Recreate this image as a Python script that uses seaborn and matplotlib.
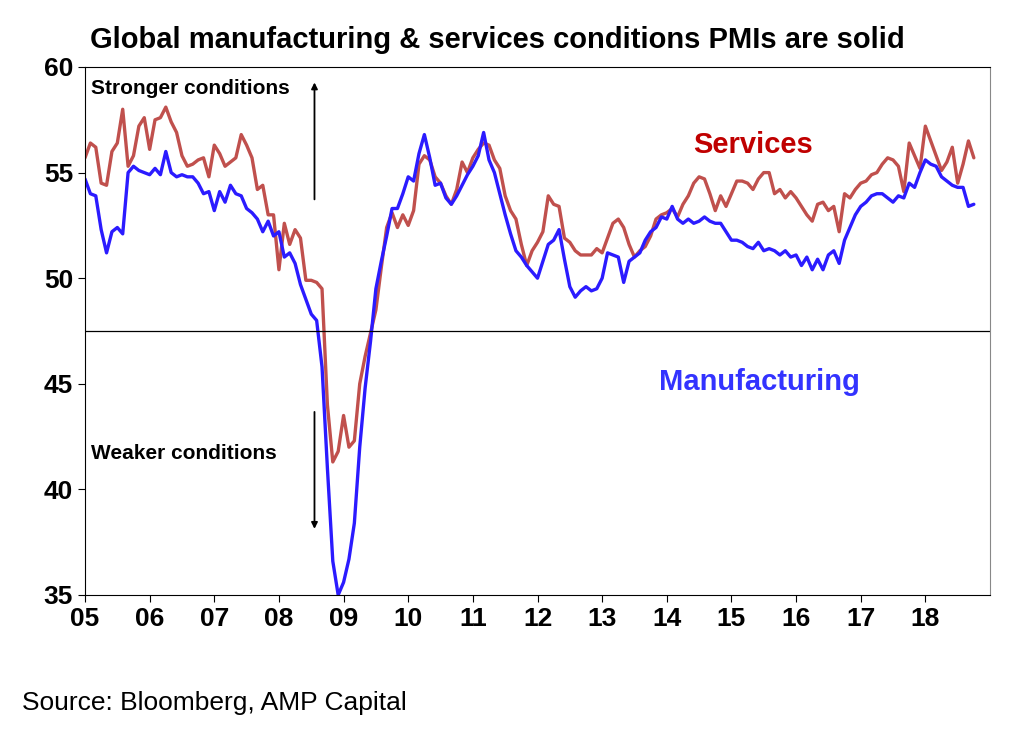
import numpy as np
import pandas as pd
import matplotlib
matplotlib.use("Agg")
import matplotlib.pyplot as plt
import seaborn as sns

# Monthly global PMIs, Jan 2005 - Oct 2018
manufacturing = [
    54.7, 54.0, 53.9, 52.3, 51.2, 52.2, 52.4, 52.1, 55.0, 55.3, 55.1, 55.0,
    54.9, 55.2, 54.9, 56.0, 55.0, 54.8, 54.9, 54.8, 54.8, 54.5, 54.0, 54.1,
    53.2, 54.1, 53.6, 54.4, 54.0, 53.9, 53.3, 53.1, 52.8, 52.2, 52.7, 52.0,
    52.2, 51.0, 51.2, 50.7, 49.7, 49.0, 48.3, 48.0, 45.8, 41.0, 36.6, 35.0,
    35.6, 36.7, 38.4, 42.0, 44.8, 47.0, 49.5, 50.8, 52.0, 53.3, 53.3, 54.0,
    54.8, 54.6, 55.9, 56.8, 55.7, 54.4, 54.5, 53.8, 53.5, 53.9, 54.4, 54.9,
    55.3, 55.8, 56.9, 55.6, 55.0, 54.0, 53.0, 52.1, 51.3, 51.0, 50.6, 50.3,
    50.0, 50.8, 51.6, 51.8, 52.3, 50.9, 49.6, 49.1, 49.4, 49.6, 49.4, 49.5,
    50.0, 51.2, 51.1, 51.0, 49.8, 50.8, 51.0, 51.2, 51.8, 52.2, 52.4, 52.9,
    52.8, 53.4, 52.8, 52.6, 52.8, 52.6, 52.7, 52.9, 52.7, 52.6, 52.6, 52.2,
    51.8, 51.8, 51.7, 51.5, 51.4, 51.7, 51.3, 51.4, 51.3, 51.1, 51.3, 51.0,
    51.1, 50.6, 51.0, 50.4, 50.9, 50.4, 51.1, 51.3, 50.7, 51.8, 52.4, 53.0,
    53.4, 53.6, 53.9, 54.0, 54.0, 53.8, 53.6, 53.9, 53.8, 54.5, 54.3, 55.0,
    55.6, 55.4, 55.3, 54.8, 54.6, 54.4, 54.3, 54.3, 53.4, 53.5,
]
services = [
    55.7, 56.4, 56.2, 54.5, 54.4, 56.0, 56.4, 58.0, 55.3, 55.8, 57.2, 57.6,
    56.1, 57.5, 57.6, 58.1, 57.4, 56.9, 55.8, 55.3, 55.4, 55.6, 55.7, 54.8,
    56.3, 55.9, 55.3, 55.5, 55.7, 56.8, 56.3, 55.7, 54.2, 54.4, 53.0, 53.0,
    50.4, 52.6, 51.6, 52.3, 51.9, 49.9, 49.9, 49.8, 49.5, 44.0, 41.3, 41.8,
    43.5, 42.0, 42.3, 45.0, 46.3, 47.4, 48.5, 50.5, 52.4, 53.1, 52.4, 53.0,
    52.5, 53.2, 55.4, 55.8, 55.6, 54.8, 54.5, 53.9, 53.5, 54.2, 55.5, 55.0,
    55.7, 56.1, 56.4, 56.3, 55.6, 55.2, 53.9, 53.2, 52.8, 51.6, 50.6, 51.3,
    51.7, 52.2, 53.9, 53.5, 53.4, 51.9, 51.7, 51.3, 51.1, 51.1, 51.1, 51.4,
    51.2, 51.9, 52.6, 52.8, 52.4, 51.6, 51.0, 51.3, 51.5, 52.0, 52.8, 53.0,
    53.1, 53.3, 52.9, 53.5, 53.9, 54.5, 54.8, 54.7, 54.0, 53.2, 53.9, 53.4,
    54.0, 54.6, 54.6, 54.5, 54.2, 54.7, 55.0, 55.0, 54.0, 54.2, 53.8, 54.1,
    53.8, 53.4, 53.0, 52.7, 53.5, 53.6, 53.2, 53.4, 52.2, 54.0, 53.8, 54.2,
    54.5, 54.6, 54.9, 55.0, 55.4, 55.7, 55.6, 55.3, 54.1, 56.4, 55.8, 55.2,
    57.2, 56.5, 55.8, 55.1, 55.5, 56.2, 54.5, 55.4, 56.5, 55.7,
]
years = list(range(2005, 2019))
year_labels = [f"{y % 100:02d}" for y in years]

t = 2005 + np.arange(len(manufacturing)) / 12
df = pd.DataFrame({"t": t, "Manufacturing": manufacturing, "Services": services})

sns.set_theme(style="white")
plt.rcParams["font.family"] = ["Liberation Sans", "DejaVu Sans"]
plt.rcParams["text.color"] = "black"
plt.rcParams["xtick.color"] = "black"
plt.rcParams["ytick.color"] = "black"

fig = plt.figure(figsize=(10.24, 7.31), dpi=100)
ax = fig.add_axes([85 / 1024, 1 - 595 / 731, 905 / 1024, 528 / 731])

blue = "#2b1bff"
red = "#c0504d"
sns.lineplot(data=df, x="t", y="Services", ax=ax, color=red, lw=2.4)
sns.lineplot(data=df, x="t", y="Manufacturing", ax=ax, color=blue, lw=2.4)
ax.axhline(47.5, color="black", lw=0.9)

ax.set_xlim(2005, 2019)
ax.set_ylim(35, 60)
ax.set_xticks(years)
ax.set_xticklabels(year_labels, fontsize=19, fontweight="bold")
ax.set_yticks([35, 40, 45, 50, 55, 60])
ax.set_yticklabels(["35", "40", "45", "50", "55", "60"], fontsize=19, fontweight="bold")
ax.tick_params(axis="both", direction="out", length=5, width=0.8, color="black",
               bottom=True, left=True, labelcolor="black")
ax.set_xlabel("")
ax.set_ylabel("")
for s in ax.spines.values():
    s.set_color("black")
    s.set_linewidth(0.8)
ax.spines["right"].set_color("#888888")

fig.text(90 / 1024, 1 - 40 / 731, "Global manufacturing & services conditions PMIs are solid",
         fontsize=21, fontweight="bold", va="center", ha="left")
fig.text(22 / 1024, 1 - 703 / 731, "Source: Bloomberg, AMP Capital",
         fontsize=19, va="center", ha="left")

ax.text(2005.1, 59.0, "Stronger conditions", fontsize=15, fontweight="bold", va="center")
ax.text(2005.1, 41.7, "Weaker conditions", fontsize=15, fontweight="bold", va="center")
ax.annotate("", xy=(2008.55, 59.4), xytext=(2008.55, 53.6),
            arrowprops=dict(arrowstyle="-|>", color="black", lw=1.3, mutation_scale=9))
ax.annotate("", xy=(2008.55, 38.0), xytext=(2008.55, 43.8),
            arrowprops=dict(arrowstyle="-|>", color="black", lw=1.3, mutation_scale=9))
ax.text(2015.34, 56.3, "Services", color="#c00000", fontsize=21, fontweight="bold", ha="center", va="center")
ax.text(2015.44, 45.1, "Manufacturing", color="#3333ff", fontsize=21, fontweight="bold", ha="center", va="center")

fig.savefig("out.png", dpi=100)
